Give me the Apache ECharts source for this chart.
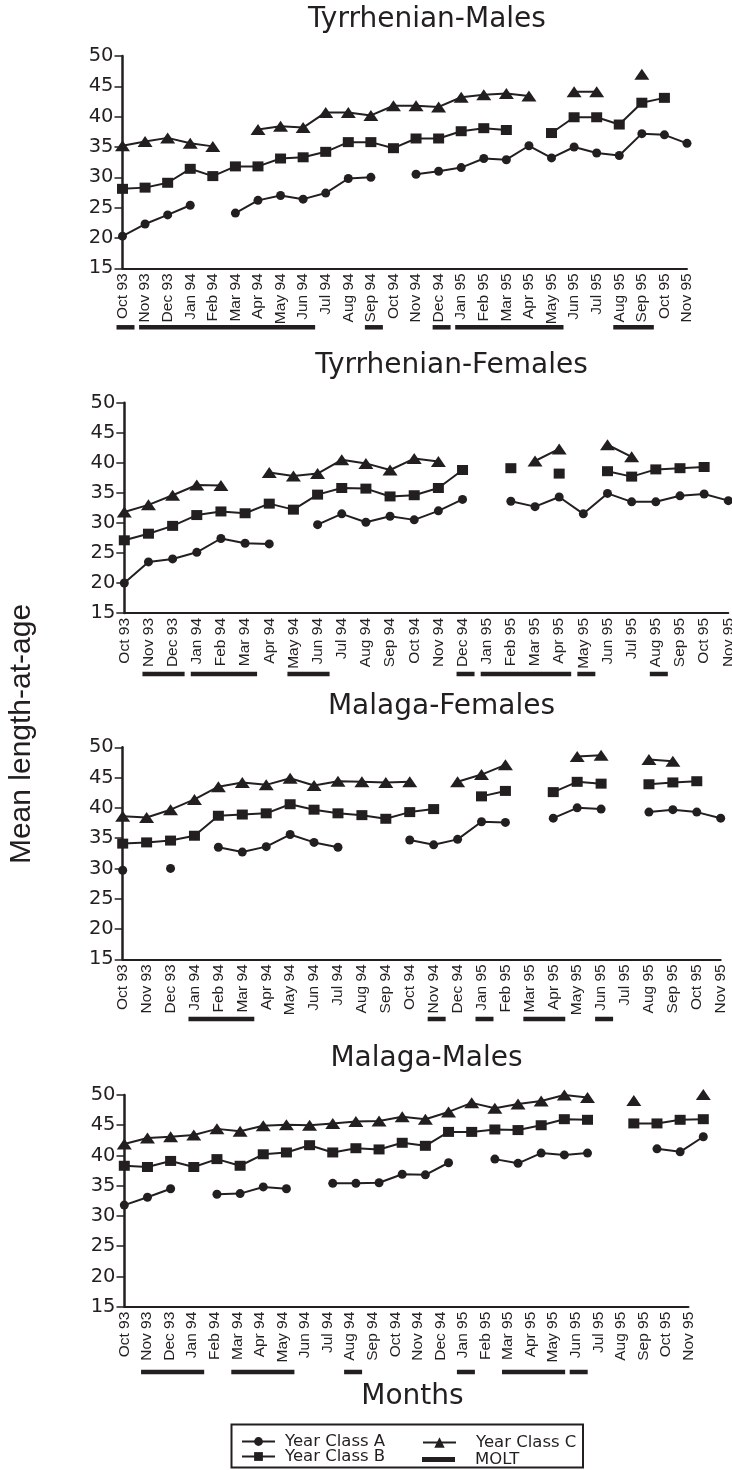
<!DOCTYPE html>
<html>
<head>
<meta charset="utf-8">
<script src="https://cdn.jsdelivr.net/npm/echarts@6/dist/echarts.min.js"></script>
<style>
  html, body { margin: 0; padding: 0; background: #fff; }
  #chart { width: 732px; height: 1470px; }
</style>
</head>
<body>
<div id="chart"></div>
<script>
// Sampling months (category axis of every panel)
const months = ['Oct 93','Nov 93','Dec 93','Jan 94','Feb 94','Mar 94','Apr 94','May 94','Jun 94','Jul 94',
  'Aug 94','Sep 94','Oct 94','Nov 94','Dec 94','Jan 95','Feb 95','Mar 95','Apr 95','May 95','Jun 95','Jul 95',
  'Aug 95','Sep 95','Oct 95','Nov 95'];

const yTicks = { min: 15, max: 50, step: 5 };

// Tyrrhenian males: mean length per year class (null = not sampled)
const tyrMalesA = [20.3, 22.3, 23.8, 25.4, null, 24.1, 26.2, 27.0, 26.4, 27.4, 29.8, 30.0, null, 30.5, 31.0, 31.6, 33.1, 32.9, 35.2, 33.2, 35.0, 34.0, 33.6, 37.2, 37.0, 35.6];
const tyrMalesB = [28.1, 28.3, 29.1, 31.4, 30.2, 31.8, 31.8, 33.1, 33.3, 34.2, 35.8, 35.8, 34.8, 36.4, 36.4, 37.6, 38.1, 37.8, null, 37.3, 39.9, 39.9, 38.7, 42.3, 43.1, null];
const tyrMalesC = [35.2, 35.9, 36.5, 35.6, 35.1, null, 37.9, 38.4, 38.2, 40.7, 40.7, 40.2, 41.8, 41.8, 41.6, 43.2, 43.6, 43.8, 43.4, null, 44.1, 44.1, null, 47.0, null, null];
const tyrMalesMolt = [['Oct 93','Oct 93'], ['Nov 93','Jun 94'], ['Sep 94','Sep 94'], ['Dec 94','Dec 94'], ['Jan 95','May 95'], ['Aug 95','Sep 95']];

// Tyrrhenian females
const tyrFemalesA = [20.0, 23.5, 24.0, 25.1, 27.4, 26.6, 26.5, null, 29.7, 31.5, 30.1, 31.1, 30.5, 32.0, 33.9, null, 33.6, 32.7, 34.3, 31.5, 34.9, 33.5, 33.5, 34.5, 34.8, 33.7];
const tyrFemalesB = [27.1, 28.2, 29.5, 31.3, 31.9, 31.6, 33.2, 32.2, 34.7, 35.8, 35.7, 34.4, 34.6, 35.8, 38.8, null, 39.1, null, 38.2, null, 38.6, 37.7, 38.9, 39.1, 39.3, null];
const tyrFemalesC = [31.8, 33.0, 34.6, 36.3, 36.2, null, 38.4, 37.8, 38.2, 40.5, 39.9, 38.8, 40.7, 40.2, null, null, null, 40.3, 42.3, null, 43.0, 41.0, null, null, null, null];
const tyrFemalesMolt = [['Nov 93','Dec 93'], ['Jan 94','Mar 94'], ['May 94','Jun 94'], ['Dec 94','Dec 94'], ['Jan 95','Apr 95'], ['May 95','May 95'], ['Aug 95','Aug 95']];

// Malaga females
const malFemalesA = [29.7, null, 30.0, null, 33.5, 32.7, 33.6, 35.6, 34.3, 33.5, null, null, 34.7, 33.9, 34.8, 37.7, 37.6, null, 38.3, 40.0, 39.8, null, 39.3, 39.7, 39.3, 38.3];
const malFemalesB = [34.1, 34.3, 34.6, 35.4, 38.7, 38.9, 39.1, 40.6, 39.7, 39.1, 38.8, 38.2, 39.3, 39.8, null, 41.9, 42.8, null, 42.6, 44.3, 44.0, null, 43.9, 44.2, 44.4, null];
const malFemalesC = [38.6, 38.4, 39.7, 41.4, 43.5, 44.2, 43.8, 44.9, 43.7, 44.4, 44.3, 44.2, 44.3, null, 44.3, 45.5, 47.1, null, null, 48.5, 48.7, null, 48.0, 47.7, null, null];
const malFemalesMolt = [['Jan 94','Mar 94'], ['Nov 94','Nov 94'], ['Jan 95','Jan 95'], ['Mar 95','Apr 95'], ['Jun 95','Jun 95']];

// Malaga males
const malMalesA = [31.8, 33.1, 34.5, null, 33.6, 33.7, 34.8, 34.5, null, 35.4, 35.4, 35.5, 36.9, 36.8, 38.8, null, 39.4, 38.7, 40.4, 40.1, 40.4, null, null, 41.1, 40.6, 43.1];
const malMalesB = [38.3, 38.1, 39.1, 38.1, 39.4, 38.3, 40.2, 40.5, 41.7, 40.5, 41.2, 41.0, 42.1, 41.6, 43.9, 43.9, 44.3, 44.2, 45.0, 46.0, 45.9, null, 45.3, 45.3, 45.9, 46.0];
const malMalesC = [41.9, 42.9, 43.1, 43.4, 44.4, 44.0, 44.9, 45.1, 45.0, 45.3, 45.6, 45.7, 46.4, 46.0, 47.2, 48.7, 47.8, 48.5, 49.0, 50.0, 49.6, null, 49.1, null, null, 50.1];
const malMalesMolt = [['Nov 93','Jan 94'], ['Mar 94','May 94'], ['Aug 94','Aug 94'], ['Jan 95','Jan 95'], ['Mar 95','May 95'], ['Jun 95','Jun 95']];

const classNames = ['Year Class A', 'Year Class B', 'Year Class C'];

// ---- layout / styling ----
const INK = '#231f20';
const SANS_WIDE = 'DejaVu Sans';
const SANS = 'Liberation Sans';

const panels = [
  { title: 'Tyrrhenian-Males', series: [tyrMalesA, tyrMalesB, tyrMalesC], molt: tyrMalesMolt,
    grid: { left: 122.5, top: 56, width: 564.5, height: 212.3 }, titlePos: [427, 20], moltDrop: 59 },
  { title: 'Tyrrhenian-Females', series: [tyrFemalesA, tyrFemalesB, tyrFemalesC], molt: tyrFemalesMolt,
    grid: { left: 124.3, top: 402.7, width: 604, height: 210.3 }, titlePos: [451.5, 365.5], moltDrop: 61 },
  { title: 'Malaga-Females', series: [malFemalesA, malFemalesB, malFemalesC], molt: malFemalesMolt,
    grid: { left: 122.7, top: 747.3, width: 598, height: 212 }, titlePos: [441.5, 706.7], moltDrop: 59.7 },
  { title: 'Malaga-Males', series: [malMalesA, malMalesB, malMalesC], molt: malMalesMolt,
    grid: { left: 124.5, top: 1095, width: 564, height: 211.7 }, titlePos: [426.5, 1058.3], moltDrop: 65.3,
    // the plotted points of this panel run on a slightly wider month scale than the labels
    plotGrid: { left: 124.3, top: 1095, width: 579, height: 211.7 } }
];

const symbols = [
  { symbol: 'circle', symbolSize: 9 },
  { symbol: 'rect', symbolSize: [11, 10] },
  { symbol: 'triangle', symbolSize: [15, 11] }
];

const grids = [], xAxes = [], yAxes = [], series = [], graphics = [];

function visibleAxes(gi) {
  xAxes.push({
    type: 'category', gridIndex: gi, data: months, boundaryGap: false,
    axisLine: { show: true, lineStyle: { color: INK, width: 2 } },
    axisTick: { show: false },
    splitLine: { show: false },
    axisLabel: { rotate: 90, margin: 5, interval: 0, hideOverlap: false,
      fontFamily: SANS, fontSize: 15.5, color: INK }
  });
  yAxes.push({
    type: 'value', gridIndex: gi, min: yTicks.min, max: yTicks.max, interval: yTicks.step,
    axisLine: { show: true, lineStyle: { color: INK, width: 2.5 } },
    axisTick: { show: true, length: 8, lineStyle: { color: INK, width: 1.5 } },
    splitLine: { show: false },
    axisLabel: { margin: 9, fontFamily: SANS_WIDE, fontSize: 19.5, color: INK }
  });
}

panels.forEach((p) => {
  const gi = grids.length;
  grids.push(Object.assign({ outerBoundsMode: 'none', containLabel: false }, p.grid));
  visibleAxes(gi);
  let pi = gi;
  if (p.plotGrid) {
    pi = grids.length;
    grids.push(Object.assign({ outerBoundsMode: 'none', containLabel: false }, p.plotGrid));
    xAxes.push({ type: 'category', gridIndex: pi, data: months, boundaryGap: false, show: false });
    yAxes.push({ type: 'value', gridIndex: pi, min: yTicks.min, max: yTicks.max, show: false });
  }

  p.series.forEach((vals, k) => {
    series.push({
      type: 'line', name: classNames[k], xAxisIndex: pi, yAxisIndex: pi,
      data: vals, connectNulls: false, clip: false,
      symbol: symbols[k].symbol, symbolSize: symbols[k].symbolSize,
      showSymbol: true, showAllSymbol: true,
      lineStyle: { color: INK, width: 2 },
      itemStyle: { color: INK, borderWidth: 0 },
      emphasis: { disabled: true }, silent: true, z: 3 + k
    });
  });

  // molt periods drawn as thick bars under the month labels
  const drop = p.moltDrop;
  series.push({
    type: 'custom', name: 'MOLT', xAxisIndex: gi, yAxisIndex: gi, clip: false, silent: true,
    itemStyle: { color: INK },
    encode: { x: [0, 1] },
    data: p.molt.map(([a, b]) => [months.indexOf(a), months.indexOf(b)]),
    renderItem(params, api) {
      const s = api.coord([api.value(0), yTicks.min]);
      const e = api.coord([api.value(1), yTicks.min]);
      return {
        type: 'rect',
        shape: { x: s[0] - 6, y: s[1] + drop - 2.25, width: e[0] - s[0] + 18, height: 4.5 },
        style: { fill: INK }
      };
    }
  });

  graphics.push({
    type: 'text', x: p.titlePos[0], y: p.titlePos[1], silent: true,
    style: { text: p.title, font: '28px "' + SANS_WIDE + '"', fill: INK, align: 'center', verticalAlign: 'middle' }
  });
});

// shared axis names
graphics.push({
  type: 'text', x: 412.5, y: 1396.5, silent: true,
  style: { text: 'Months', font: '28px "' + SANS_WIDE + '"', fill: INK, align: 'center', verticalAlign: 'middle' }
});
graphics.push({
  type: 'text', x: 22, y: 734, rotation: Math.PI / 2, silent: true,
  style: { text: 'Mean length-at-age', font: '30px "' + SANS + '"', fill: INK, align: 'center', verticalAlign: 'middle' }
});
// legend frame
graphics.push({
  type: 'rect', silent: true,
  shape: { x: 231.5, y: 1424.5, width: 351.5, height: 43 },
  style: { fill: 'none', stroke: INK, lineWidth: 2 }
});

const legendText = (pad) => ({ fontFamily: SANS_WIDE, fontSize: 16.5, color: INK, padding: [0, 0, 0, pad] });
const legendBase = { orient: 'vertical', padding: 0, selectedMode: false, itemGap: 0 };

const option = {
  animation: false,
  backgroundColor: '#fff',
  grid: grids,
  xAxis: xAxes,
  yAxis: yAxes,
  series: series,
  graphic: graphics,
  legend: [
    Object.assign({}, legendBase, { left: 241, top: 1433, itemWidth: 33, itemHeight: 11,
      data: ['Year Class A'], textStyle: legendText(5) }),
    Object.assign({}, legendBase, { left: 241, top: 1448, itemWidth: 33, itemHeight: 11,
      data: ['Year Class B'], textStyle: legendText(5) }),
    Object.assign({}, legendBase, { left: 422, top: 1434, itemWidth: 33, itemHeight: 13,
      data: ['Year Class C'], textStyle: legendText(15) }),
    Object.assign({}, legendBase, { left: 422, top: 1451, itemWidth: 33, itemHeight: 5,
      data: [{ name: 'MOLT', icon: 'rect' }], textStyle: legendText(15) })
  ]
};

const chart = echarts.init(document.getElementById('chart'), null, { renderer: 'canvas' });
chart.setOption(option);
</script>
</body>
</html>
